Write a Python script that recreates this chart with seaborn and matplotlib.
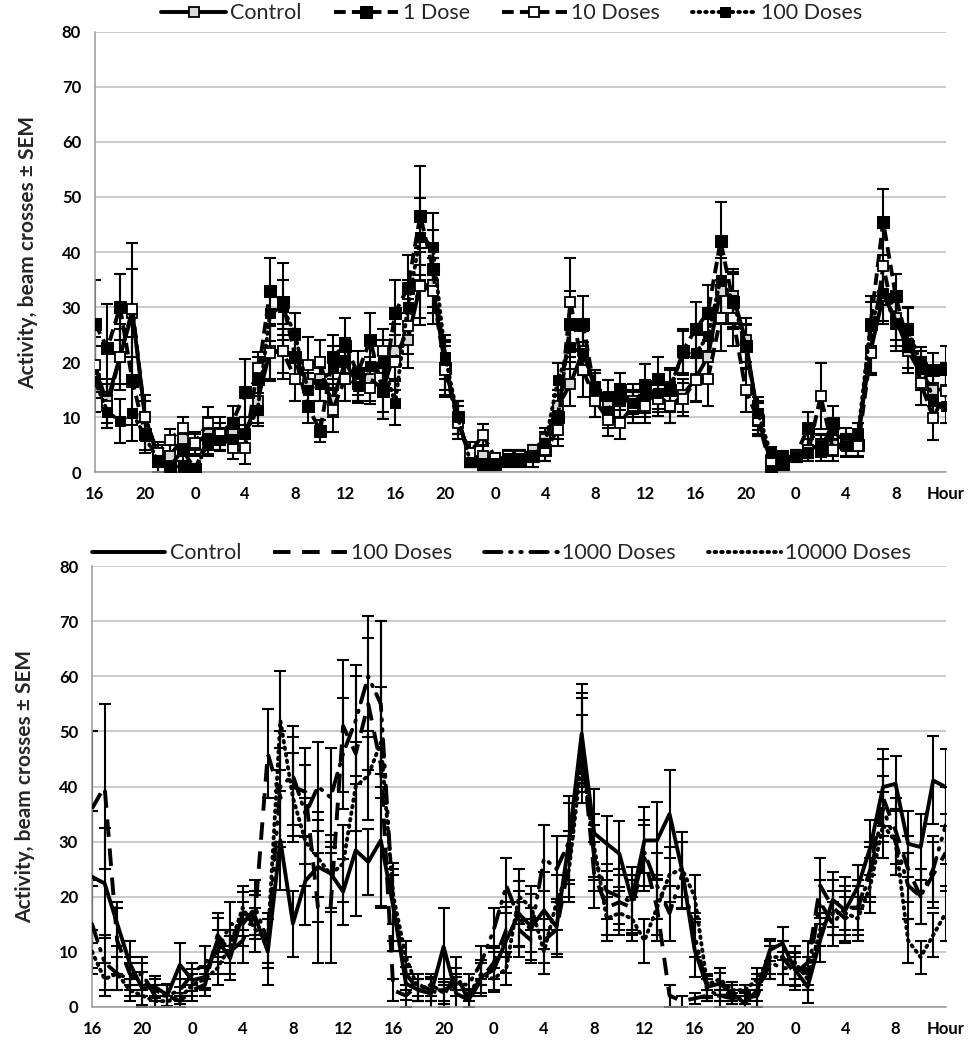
import numpy as np
import pandas as pd
import matplotlib
matplotlib.use("Agg")
import matplotlib.pyplot as plt
import seaborn as sns

# ---------------- data ----------------
hours = list(range(69))  # hourly samples, starting at 16:00
tick_pos = list(range(0, 69, 4))
tick_labels = ["16", "20", "0", "4", "8", "12", "16", "20", "0", "4", "8", "12",
               "16", "20", "0", "4", "8", "Hour"]

top_names = ["Control", "1 Dose", "10 Doses", "100 Doses"]
top_control = [17, 13, 21, 29, 10, 3, 3, 6, 5, 7, 6, 7,
               7, 13, 22, 22, 21, 16, 17, 13, 20, 16, 17, 15,
               22, 24, 34, 34, 19, 10, 2, 3, 2, 3, 3, 4,
               6, 12, 16, 22, 15, 12, 13, 13, 13, 14, 12, 14,
               17, 21, 33, 32, 24, 10, 2, 2, 3, 4, 5, 5,
               5, 7, 22, 32, 28, 22, 18, 15, 15]
top_1dose = [27, 22.5, 30, 16.5, 7, 2, 1, 4, 0.5, 6, 7, 9,
             14.5, 17, 33, 31, 21, 12, 7.5, 21, 23, 18, 24, 14.7,
             29, 33.5, 46.6, 37, 19, 10, 2, 1.5, 1.5, 2, 2, 3,
             4, 10, 27, 27, 14, 11, 15, 12, 15.6, 17, 15, 22,
             26, 29, 42, 31, 23, 9.5, 1, 1.5, 3, 8, 4, 9,
             6, 5, 27, 45.5, 32, 23, 19, 18.6, 19]
top_10dose = [19.5, 12, 21, 29.6, 10, 3.5, 5.9, 8, 5.3, 8.9, 7, 4.4,
              4.4, 18.9, 21.6, 22, 17, 19.5, 20, 11.3, 17, 16, 15.3, 22,
              20, 26.5, 33.8, 33, 18.6, 9, 3.5, 6.8, 2.5, 3, 3, 3,
              4, 7.7, 31, 18.6, 13, 9.5, 9, 12, 12, 13.2, 12, 13.2,
              16.8, 17, 28, 28, 15, 9.5, 2, 2.5, 3, 3.5, 13.8, 4,
              5, 4.7, 21.6, 37.4, 27, 26, 16.2, 9.8, 14.7]
top_100dose = [16.5, 11, 9.2, 10.7, 6.5, 2.2, 1, 1, 0.1, 5.3, 5.9, 6,
               7, 11.3, 28.9, 30, 25, 15, 16, 19, 20.4, 15.6, 19.2, 20,
               12.5, 30, 42.8, 41, 21, 10, 1.9, 1.3, 1.6, 2.5, 2.5, 2.8,
               5.3, 16.8, 22.8, 21.6, 15.6, 13.8, 13.2, 12.5, 13.8, 14.4, 15.6, 21.6,
               21.6, 24.7, 35, 31.3, 22.8, 10.7, 3.5, 2.8, 2.8, 3.5, 4.7, 7.7,
               4.7, 7, 27, 32.5, 27, 25.9, 19.8, 13.2, 12]

top_control_sem = [6, 4, 6, 8, 3, 2, 2, 2, 2, 3, 2, 2,
                   3, 4, 5, 4, 4, 4, 4, 3, 4, 3, 4, 4,
                   5, 5, 6, 5, 4, 3, 1, 2, 1, 1, 1, 1,
                   2, 3, 4, 4, 3, 2, 3, 3, 3, 3, 3, 3,
                   4, 4, 6, 5, 4, 3, 1, 1, 1, 2, 2, 2,
                   2, 2, 4, 5, 4, 4, 3, 3, 3]
top_1dose_sem = [8, 8, 6, 8, 3, 2, 2, 2, 1, 3, 3, 3,
                 6, 4, 6, 7, 5, 3, 2, 4, 5, 4, 5, 5,
                 6, 6, 9, 7, 5, 3, 1, 1, 1, 1, 1, 2,
                 2, 4, 6, 5, 4, 3, 3, 3, 4, 4, 4, 4,
                 5, 5, 7, 5, 4, 3, 1, 1, 1, 3, 2, 3,
                 2, 2, 5, 6, 4, 4, 3, 3, 4]
top_10dose_sem = [5, 4, 5, 12, 4, 2, 2, 2, 2, 3, 2, 2,
                  3, 3, 5, 5, 4, 5, 4, 4, 4, 3, 3, 4,
                  5, 5, 7, 6, 5, 3, 2, 2, 1, 1, 1, 1,
                  2, 3, 8, 5, 3, 3, 3, 3, 3, 3, 3, 3,
                  4, 5, 6, 5, 4, 3, 1, 1, 1, 1, 6, 2,
                  2, 2, 4, 7, 5, 4, 4, 4, 3]
top_100dose_sem = [3, 3, 4, 5, 3, 1, 1, 1, 1, 2, 2, 2,
                   3, 3, 5, 5, 4, 3, 3, 4, 4, 3, 4, 4,
                   4, 5, 7, 6, 4, 3, 1, 1, 1, 1, 1, 1,
                   2, 3, 4, 4, 3, 3, 2, 2, 3, 3, 3, 4,
                   4, 4, 6, 5, 4, 3, 1, 1, 1, 1, 2, 2,
                   2, 2, 4, 5, 4, 4, 3, 3, 3]

bot_names = ["Control", "100 Doses", "1000 Doses", "10000 Doses"]
bot_control = [23.6, 22.4, 15.1, 7.9, 3.3, 3.6, 2.1, 7.6, 4.8, 5.4, 12.1, 8.8,
               16.9, 16.3, 10, 30.2, 15.1, 22.9, 25.4, 24.2, 20.9, 28.4, 26.3, 30.2,
               18.1, 4.2, 3, 2.4, 10.9, 2.4, 1.2, 5.4, 6.7, 12.1, 16.9, 14.5,
               17.5, 14.5, 30.2, 49.6, 31.5, 29.6, 27.8, 19.4, 30.2, 30.2, 35, 24.8,
               10.3, 3.6, 4.2, 2.4, 0.6, 3, 10.3, 11.5, 6.7, 3.6, 12.1, 19.4,
               17.5, 21.8, 29, 39.9, 40.5, 29.6, 29, 41.1, 39.9]
bot_100dose = [36, 40, 12, 6, 5, 3, 2, 1, 3, 4, 13, 10,
               12, 17, 46, 38, 40, 39, 18, 18, 51, 46, 55, 44,
               3, 2, 4, 3, 2, 6, 1, 5, 8, 14, 14, 12,
               12, 14, 26, 48, 24, 18, 19, 18, 27, 18, 2, 1,
               1.5, 2, 2, 2, 1.5, 2, 8, 9, 6, 8, 22, 18,
               16, 18, 25, 38, 32, 25, 20, 24, 28]
bot_1000dose = [15, 8, 6, 5, 6, 2, 2, 3, 6, 8, 10, 15,
                15, 18, 12, 40, 42, 35, 40, 38, 46, 52, 60, 55,
                18, 6, 3, 3, 3, 4, 4, 8, 14, 22, 16, 14,
                27, 25, 30, 48, 27, 21, 20, 19, 28, 22, 17, 24,
                13, 3, 2, 1.5, 2, 3, 8, 7, 7, 6, 19, 15,
                18, 18, 24, 36, 30, 22, 20, 25, 33]
bot_10000dose = [10, 5, 6, 3, 2, 1, 1, 1.5, 4, 5, 7, 11,
                 18, 14, 12, 52, 38, 30, 27, 24, 26, 40, 42, 48,
                 20, 9, 3, 4, 2.5, 5, 2, 6, 5, 7, 20, 18,
                 10, 19, 25, 45, 29, 16, 17, 16, 12, 18, 24, 25,
                 20, 4, 5, 3, 3, 5, 9, 9, 8, 5, 14, 17,
                 17, 16, 22, 33, 30, 12, 9, 13, 17]

bot_control_sem = [12, 10, 4, 4, 3, 2, 2, 4, 2, 2, 4, 4,
                   4, 4, 6, 9, 6, 8, 10, 7, 6, 12, 6, 12,
                   8, 3, 2, 3, 7, 3, 2, 3, 4, 6, 6, 6,
                   7, 5, 8, 9, 8, 5, 6, 6, 6, 7, 8, 7,
                   5, 2, 2, 2, 2, 3, 2, 3, 3, 3, 4, 5,
                   6, 4, 5, 7, 5, 6, 6, 8, 7]
bot_100dose_sem = [14, 15, 6, 3, 3, 2, 2, 1, 2, 2, 4, 4,
                   4, 4, 8, 9, 9, 8, 10, 10, 12, 14, 12, 26,
                   2, 2, 2, 2, 2, 3, 1, 3, 3, 5, 5, 4,
                   4, 5, 6, 9, 6, 5, 5, 5, 6, 6, 2, 1,
                   1, 1, 2, 1, 1, 2, 3, 3, 3, 4, 5, 5,
                   4, 5, 5, 7, 6, 6, 5, 6, 7]
bot_1000dose_sem = [8, 5, 3, 3, 3, 2, 2, 2, 2, 3, 4, 4,
                    4, 5, 5, 10, 9, 9, 8, 9, 10, 10, 11, 15,
                    6, 3, 2, 2, 2, 2, 2, 3, 4, 5, 5, 4,
                    6, 6, 7, 8, 6, 5, 5, 5, 6, 6, 5, 6,
                    4, 2, 1, 1, 1, 2, 3, 3, 3, 3, 4, 4,
                    4, 4, 5, 6, 6, 6, 5, 6, 7]
bot_10000dose_sem = [4, 3, 3, 2, 2, 1, 1, 1, 2, 2, 3, 3,
                     4, 4, 4, 9, 8, 8, 7, 6, 7, 8, 8, 10,
                     5, 3, 2, 2, 2, 2, 1, 2, 2, 3, 5, 4,
                     4, 5, 6, 8, 6, 4, 4, 4, 4, 5, 5, 5,
                     4, 2, 2, 1, 1, 2, 3, 3, 3, 2, 3, 4,
                     4, 4, 5, 6, 6, 4, 3, 4, 5]

y_ticks = [0, 10, 20, 30, 40, 50, 60, 70, 80]
y_label = "Activity, beam crosses \u00b1 SEM"

# ---------------- style ----------------
sns.set_theme(style="white")
plt.rcParams["font.family"] = ["Lato", "DejaVu Sans"]

fig = plt.figure(figsize=(9.75, 10.45), dpi=100)
ax_top = fig.add_axes([0.0974, 0.5483, 0.8726, 0.4211])
ax_bot = fig.add_axes([0.0944, 0.0367, 0.8756, 0.4213])

grid_col = "#bdbdbd"

top_series = [
    (top_names[0], top_control, top_control_sem,
     dict(linestyle="-", marker="s", markersize=6.5, markerfacecolor="#d9d9d9",
          markeredgecolor="black", markeredgewidth=1.3)),
    (top_names[1], top_1dose, top_1dose_sem,
     dict(linestyle=(0, (3.0, 1.6)), marker="s", markersize=8.5,
          markerfacecolor="black", markeredgecolor="black")),
    (top_names[2], top_10dose, top_10dose_sem,
     dict(linestyle=(0, (3.0, 1.6)), marker="s", markersize=6.5,
          markerfacecolor="white", markeredgecolor="black", markeredgewidth=1.3)),
    (top_names[3], top_100dose, top_100dose_sem,
     dict(linestyle=(0, (0.4, 1.3)), dash_capstyle="round", marker="s", markersize=7.5,
          markerfacecolor="black", markeredgecolor="black")),
]

bot_series = [
    (bot_names[0], bot_control, bot_control_sem, dict(linestyle="-")),
    (bot_names[1], bot_100dose, bot_100dose_sem, dict(linestyle=(0, (4.5, 3.0)))),
    (bot_names[2], bot_1000dose, bot_1000dose_sem,
     dict(linestyle=(0, (4.5, 2.2, 0.4, 2.2, 0.4, 2.2)), dash_capstyle="round")),
    (bot_names[3], bot_10000dose, bot_10000dose_sem,
     dict(linestyle=(0, (0.4, 1.3)), dash_capstyle="round")),
]


def draw_panel(ax, series, legend_x, legend_y, hl):
    for name, vals, sem, kw in series:
        ax.errorbar(hours, vals, yerr=sem, fmt="none", ecolor="black",
                    elinewidth=1.5, capsize=4, capthick=1.5, zorder=2)
    for name, vals, sem, kw in series:
        df = pd.DataFrame({"hour": hours, "value": vals})
        sns.lineplot(data=df, x="hour", y="value", ax=ax, color="black",
                     linewidth=2.8, label=name, zorder=3, **kw)
    ax.set_xlim(0, 68)
    ax.set_ylim(0, 80)
    ax.set_yticks(y_ticks)
    ax.set_yticklabels([str(v) for v in y_ticks], fontsize=12, fontweight="bold")
    ax.set_xticks(tick_pos)
    ax.set_xticklabels(tick_labels, fontsize=12, fontweight="bold")
    ax.yaxis.grid(True, color=grid_col, linewidth=1.1)
    ax.xaxis.grid(False)
    ax.set_axisbelow(True)
    for s in ["top", "right"]:
        ax.spines[s].set_visible(False)
    for s in ["left", "bottom"]:
        ax.spines[s].set_color("#999999")
        ax.spines[s].set_linewidth(1.1)
    ax.tick_params(axis="both", which="major", direction="out", length=5,
                   width=1.1, color="#999999", pad=5, labelcolor="black")
    ax.set_xlabel("")
    ax.set_ylabel(y_label, fontsize=15, fontweight="bold", labelpad=17)
    leg = ax.legend(loc="center", bbox_to_anchor=(legend_x, legend_y), ncol=4,
                    frameon=False, fontsize=15.5, handlelength=hl, numpoints=1,
                    columnspacing=1.5, handletextpad=0.2, borderaxespad=0)
    return leg


draw_panel(ax_top, top_series, 0.49, 1.043, 3.0)
draw_panel(ax_bot, bot_series, 0.48, 1.03, 3.4)

fig.savefig("out.png", dpi=100, facecolor="white")
